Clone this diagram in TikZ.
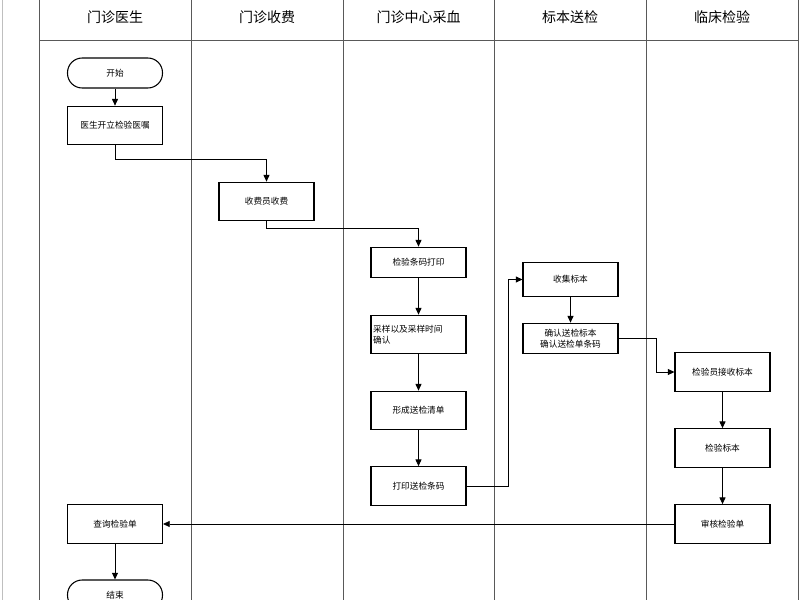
\documentclass[tikz,border=0pt]{standalone}
\usepackage{fontspec}
\setmainfont{Noto Sans CJK SC}
\usetikzlibrary{arrows.meta}
\tikzset{
  box/.style={draw, line width=0.8pt, minimum width=71.25pt, minimum height=29pt, inner sep=1pt, font=\fontsize{6.5}{8}\selectfont, align=center},
  term/.style={box, rounded corners=11pt, minimum height=22.5pt},
  flow/.style={draw, line width=0.6pt, -{Triangle[length=5pt,width=4.5pt]}},
  lane/.style={draw, line width=0.6pt, gray!70!black},
  head/.style={font=\fontsize{10.5}{12}\selectfont}
}
\begin{document}
\begin{tikzpicture}[x=0.75pt,y=0.75pt,yscale=-1,xscale=1]
\useasboundingbox (0,0) rectangle (800,600);
\fill[white] (0,0) rectangle (800,600);

% lanes
\draw[lane, gray!50] (2,0) -- (2,600);
\foreach \x in {39,191,343,494,646,798} \draw[lane] (\x,0) -- (\x,600);
\draw[lane] (39,40) -- (798,40);

% headers
\node[head] at (115,17) {门诊医生};
\node[head] at (267,17) {门诊收费};
\node[head] at (418.5,17) {门诊中心采血};
\node[head] at (570,17) {标本送检};
\node[head] at (722,17) {临床检验};

% nodes
\node[term] (start) at (115,73) {开始};
\node[box] (order) at (115,125.5) {医生开立检验医嘱};
\node[box] (charge) at (266.5,201.5) {收费员收费};
\node[box, minimum height=23pt] (print) at (418.5,262.5) {检验条码打印};
\node[box, align=left, text width=68pt] (sample) at (418.5,334.5) {采样以及采样时间\\确认};
\node[box] (list) at (418.5,410.5) {形成送检清单};
\node[box] (code) at (418.5,486) {打印送检条码};
\node[box, minimum height=25pt] (collect) at (570.5,279.5) {收集标本};
\node[box, minimum height=23pt] (confirm) at (570.5,338.5) {确认送检标本\\确认送检单条码};
\node[box] (receive) at (722.5,372) {检验员接收标本};
\node[box] (test) at (722.5,448) {检验标本};
\node[box] (audit) at (722.5,524) {审核检验单};
\node[box] (query) at (115,524) {查询检验单};
\node[term] (stop) at (115,595) {结束};

% connectors
\draw[flow] (start) -- (order);
\draw[flow] (order.south) |- (266.5,159) -- (charge.north);
\draw[flow] (charge.south) |- (418.5,228) -- (print.north);
\draw[flow] (print) -- (sample);
\draw[flow] (sample) -- (list);
\draw[flow] (list) -- (code);
\draw[flow] (code.east) -| (508,279.5) -- (collect.west);
\draw[flow] (collect) -- (confirm);
\draw[flow] (confirm.east) -| (656,372) -- (receive.west);
\draw[flow] (receive) -- (test);
\draw[flow] (test) -- (audit);
\draw[flow] (audit) -- (query);
\draw[flow] (query) -- (stop);
\end{tikzpicture}
\end{document}
